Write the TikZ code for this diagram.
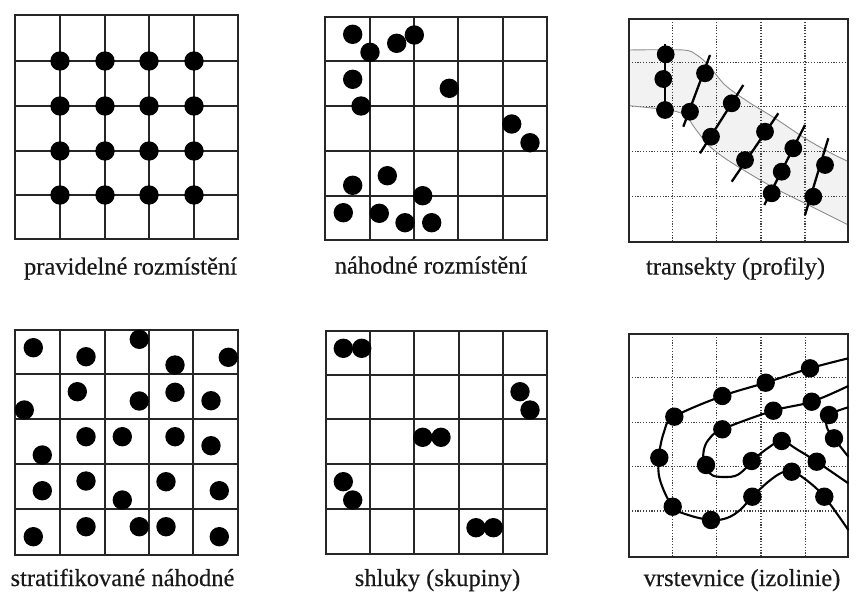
\documentclass[tikz,border=0pt]{standalone}
\usepackage{fontspec}
\setmainfont{Liberation Serif}
\newfontfamily\capfont[FakeBold=0.35]{Liberation Serif}
\begin{document}
\begin{tikzpicture}[x=1pt,y=-1pt,
  gridline/.style={line width=2pt, black!85},
  dotgrid/.style={line width=1.5pt, black!75, dash pattern=on 1.2pt off 1.6pt},
  spot/.style={fill=black},
  caption/.style={anchor=base, font=\capfont\fontsize{24.5}{29}\selectfont, inner sep=0pt, text=black!90},
  contour/.style={line width=2.1pt, black},
  transect/.style={line width=2.3pt, black},
  bandline/.style={draw=black!45, line width=0.9pt}]
\useasboundingbox[fill=white] (0,0) rectangle (856,594);

% ---------- panel 1: regular
\draw[gridline] (15,15) rectangle (238,239);
\foreach \a in {60,105,149,194} \draw[gridline] (\a,15) -- (\a,239);
\foreach \b in {61,106,151,195} \draw[gridline] (15,\b) -- (238,\b);
\foreach \a in {60,105,149,194} \foreach \b in {61,106,151,195}
  \fill[spot] (\a,\b) circle[radius=9.7pt];
\node[caption] (cap1) at (130.5,274.5) {pravidelné rozmístění};

% ---------- panel 2: random
\draw[gridline] (325,17) rectangle (547,240);
\foreach \a in {370,414,458,503} \draw[gridline] (\a,17) -- (\a,240);
\foreach \b in {61,106,151,196} \draw[gridline] (325,\b) -- (547,\b);
\foreach \a/\b in {352.7/34.3, 370/52.3, 396.7/43.3, 414.3/35, 352.7/79.3, 361/106,
  449.3/88.3, 511.7/124, 530/142.7, 352.7/185.3, 387.3/175.7, 422.7/195.7,
  343.3/212.7, 379.3/213.3, 405/222.7, 431.7/222.7}
  \fill[spot] (\a,\b) circle[radius=9.7pt];
\node[caption] (cap2) at (431,273.5) {náhodné rozmístění};

% ---------- panel 3: transects
\fill[black!5] plot[smooth] coordinates {(629,50) (683.3,50) (696.7,55) (708.3,65) (725,85) (748,101.7) (775,118.3) (805,138.3) (828.3,151.7) (848.3,161.7)}
  -- plot[smooth] coordinates {(848.3,225) (831.7,216.7) (808.3,205) (775,188.3) (751.7,175) (725,158.3) (708.3,145) (695,128.3) (685,115) (668.3,110) (629,105.7)} -- cycle;
\foreach \a in {672.7,716.7,761,805} \draw[dotgrid] (\a,19) -- (\a,241.7);
\foreach \b in {62.3,106.7,151.7,196.7} \draw[dotgrid] (629,\b) -- (848.3,\b);
\draw[bandline] plot[smooth] coordinates {(629,50) (683.3,50) (696.7,55) (708.3,65) (725,85) (748,101.7) (775,118.3) (805,138.3) (828.3,151.7) (848.3,161.7)};
\draw[bandline] plot[smooth] coordinates {(629,105.7) (668.3,110) (685,115) (695,128.3) (708.3,145) (725,158.3) (751.7,175) (775,188.3) (808.3,205) (831.7,216.7) (848.3,225)};
\draw[gridline] (629,19) rectangle (848.3,241.7);
\draw[transect] (665,44.3) -- (665,118.3);
\draw[transect] (710,55) -- (683.3,126.7);
\draw[transect] (743.3,85) -- (700,153.3);
\draw[transect] (778.3,113.3) -- (731.7,181.7);
\draw[transect] (805,125) -- (764.3,205);
\draw[transect] (828.3,138.3) -- (805,215);
\foreach \a/\b in {665.7/54.3, 663.3/79, 665/110, 705/73.3, 690/111.7, 731.7/103.3, 711/136.7,
  765/131.7, 745/160, 793.3/148.3, 781.7/171.7, 771.7/193.3, 825/165, 813.3/196.7}
  \fill[spot] (\a,\b) circle[radius=8.9pt];
\node[caption] (cap3) at (735.5,274.5) {transekty (profily)};

% ---------- panel 4: stratified random
\draw[gridline] (15,330) rectangle (237.7,555);
\foreach \a in {60,105.3,149,193.3} \draw[gridline] (\a,330) -- (\a,555);
\foreach \b in {374.3,419,464,509.3} \draw[gridline] (15,\b) -- (237.7,\b);
\foreach \a/\b in {33.3/347.7, 86/356.7, 139.3/339.3, 175/365, 228.3/357.3,
  77.3/391.7, 24.3/410, 139.3/401, 175/392.3, 211/400.7,
  42.3/455, 86/436.7, 122.3/436.7, 175/436.7, 211/445.7,
  42.3/490.7, 86/481, 122.3/500, 166/481.7, 219.3/490.7,
  33.3/536.7, 86/526.7, 139.3/526.7, 166/526.7, 219.3/536.7}
  \fill[spot] (\a,\b) circle[radius=9.7pt];
\node[caption] (cap4) at (122.5,586) {stratifikované náhodné};

% ---------- panel 5: clusters
\draw[gridline] (325.7,330.7) rectangle (547.3,554);
\foreach \a in {370,414.3,459,503.3} \draw[gridline] (\a,330.7) -- (\a,554);
\foreach \b in {375,419.3,464.3,509.3} \draw[gridline] (325.7,\b) -- (547.3,\b);
\foreach \a/\b in {343.3/348.3, 361.7/348.3, 520/391.7, 530/410, 422.7/437.3, 441/437.3,
  343.3/481.7, 352.7/500, 476/527.7, 493.3/527.7}
  \fill[spot] (\a,\b) circle[radius=9.7pt];
\node[caption] (cap5) at (437.5,586) {shluky (skupiny)};

% ---------- panel 6: contours
\foreach \a in {672.7,716.7,761,805.5} \draw[dotgrid] (\a,334) -- (\a,556.7);
\foreach \b in {377.3,422.3,466.7,511} \draw[dotgrid] (629,\b) -- (848.3,\b);
\draw[gridline] (629,334) rectangle (848.3,556.7);
\draw[contour] plot[smooth, tension=0.6] coordinates {(848.3,358.3) (810,368.3) (765.7,382.7) (722.3,396) (674.3,416.7) (664,432) (658.8,457.7) (660,480) (672.7,506.7) (688.3,515) (711,520) (727,518) (740,510) (752.3,496.7) (768.3,481.7) (781.7,472.7) (791.7,471.7) (805,479) (824.3,496.7) (848.3,530)};
\draw[contour] plot[smooth, tension=0.6] coordinates {(848.3,386) (811.7,401.7) (773.3,410.7) (722.3,429.3) (708.3,440) (703.5,452) (704.5,464) (710,473.5) (718,476.7) (735,476) (746,468) (751.7,461) (768,448) (781.7,441) (798,450) (816.7,461.7) (848.3,483.3)};
\draw[contour] plot[smooth, tension=0.6] coordinates {(848.3,407.3) (829,415) (826.7,426.7) (834,438.3) (841.7,448.3) (848.3,456.7)};
\foreach \a/\b in {810/368.3, 765.7/382.7, 722.3/396, 674.3/416.7, 659.3/457.7, 672.7/506.7,
  711/520, 752.3/496.7, 791.7/471.7, 824.3/496.7,
  811.7/401.7, 773.3/410.7, 722.3/429.3, 706/465, 751.7/461, 781.7/441, 816.7/461.7,
  829/415, 834/438.3}
  \fill[spot] (\a,\b) circle[radius=9.2pt];
\node[caption] (cap6) at (742,586) {vrstevnice (izolinie)};
\end{tikzpicture}
\end{document}
